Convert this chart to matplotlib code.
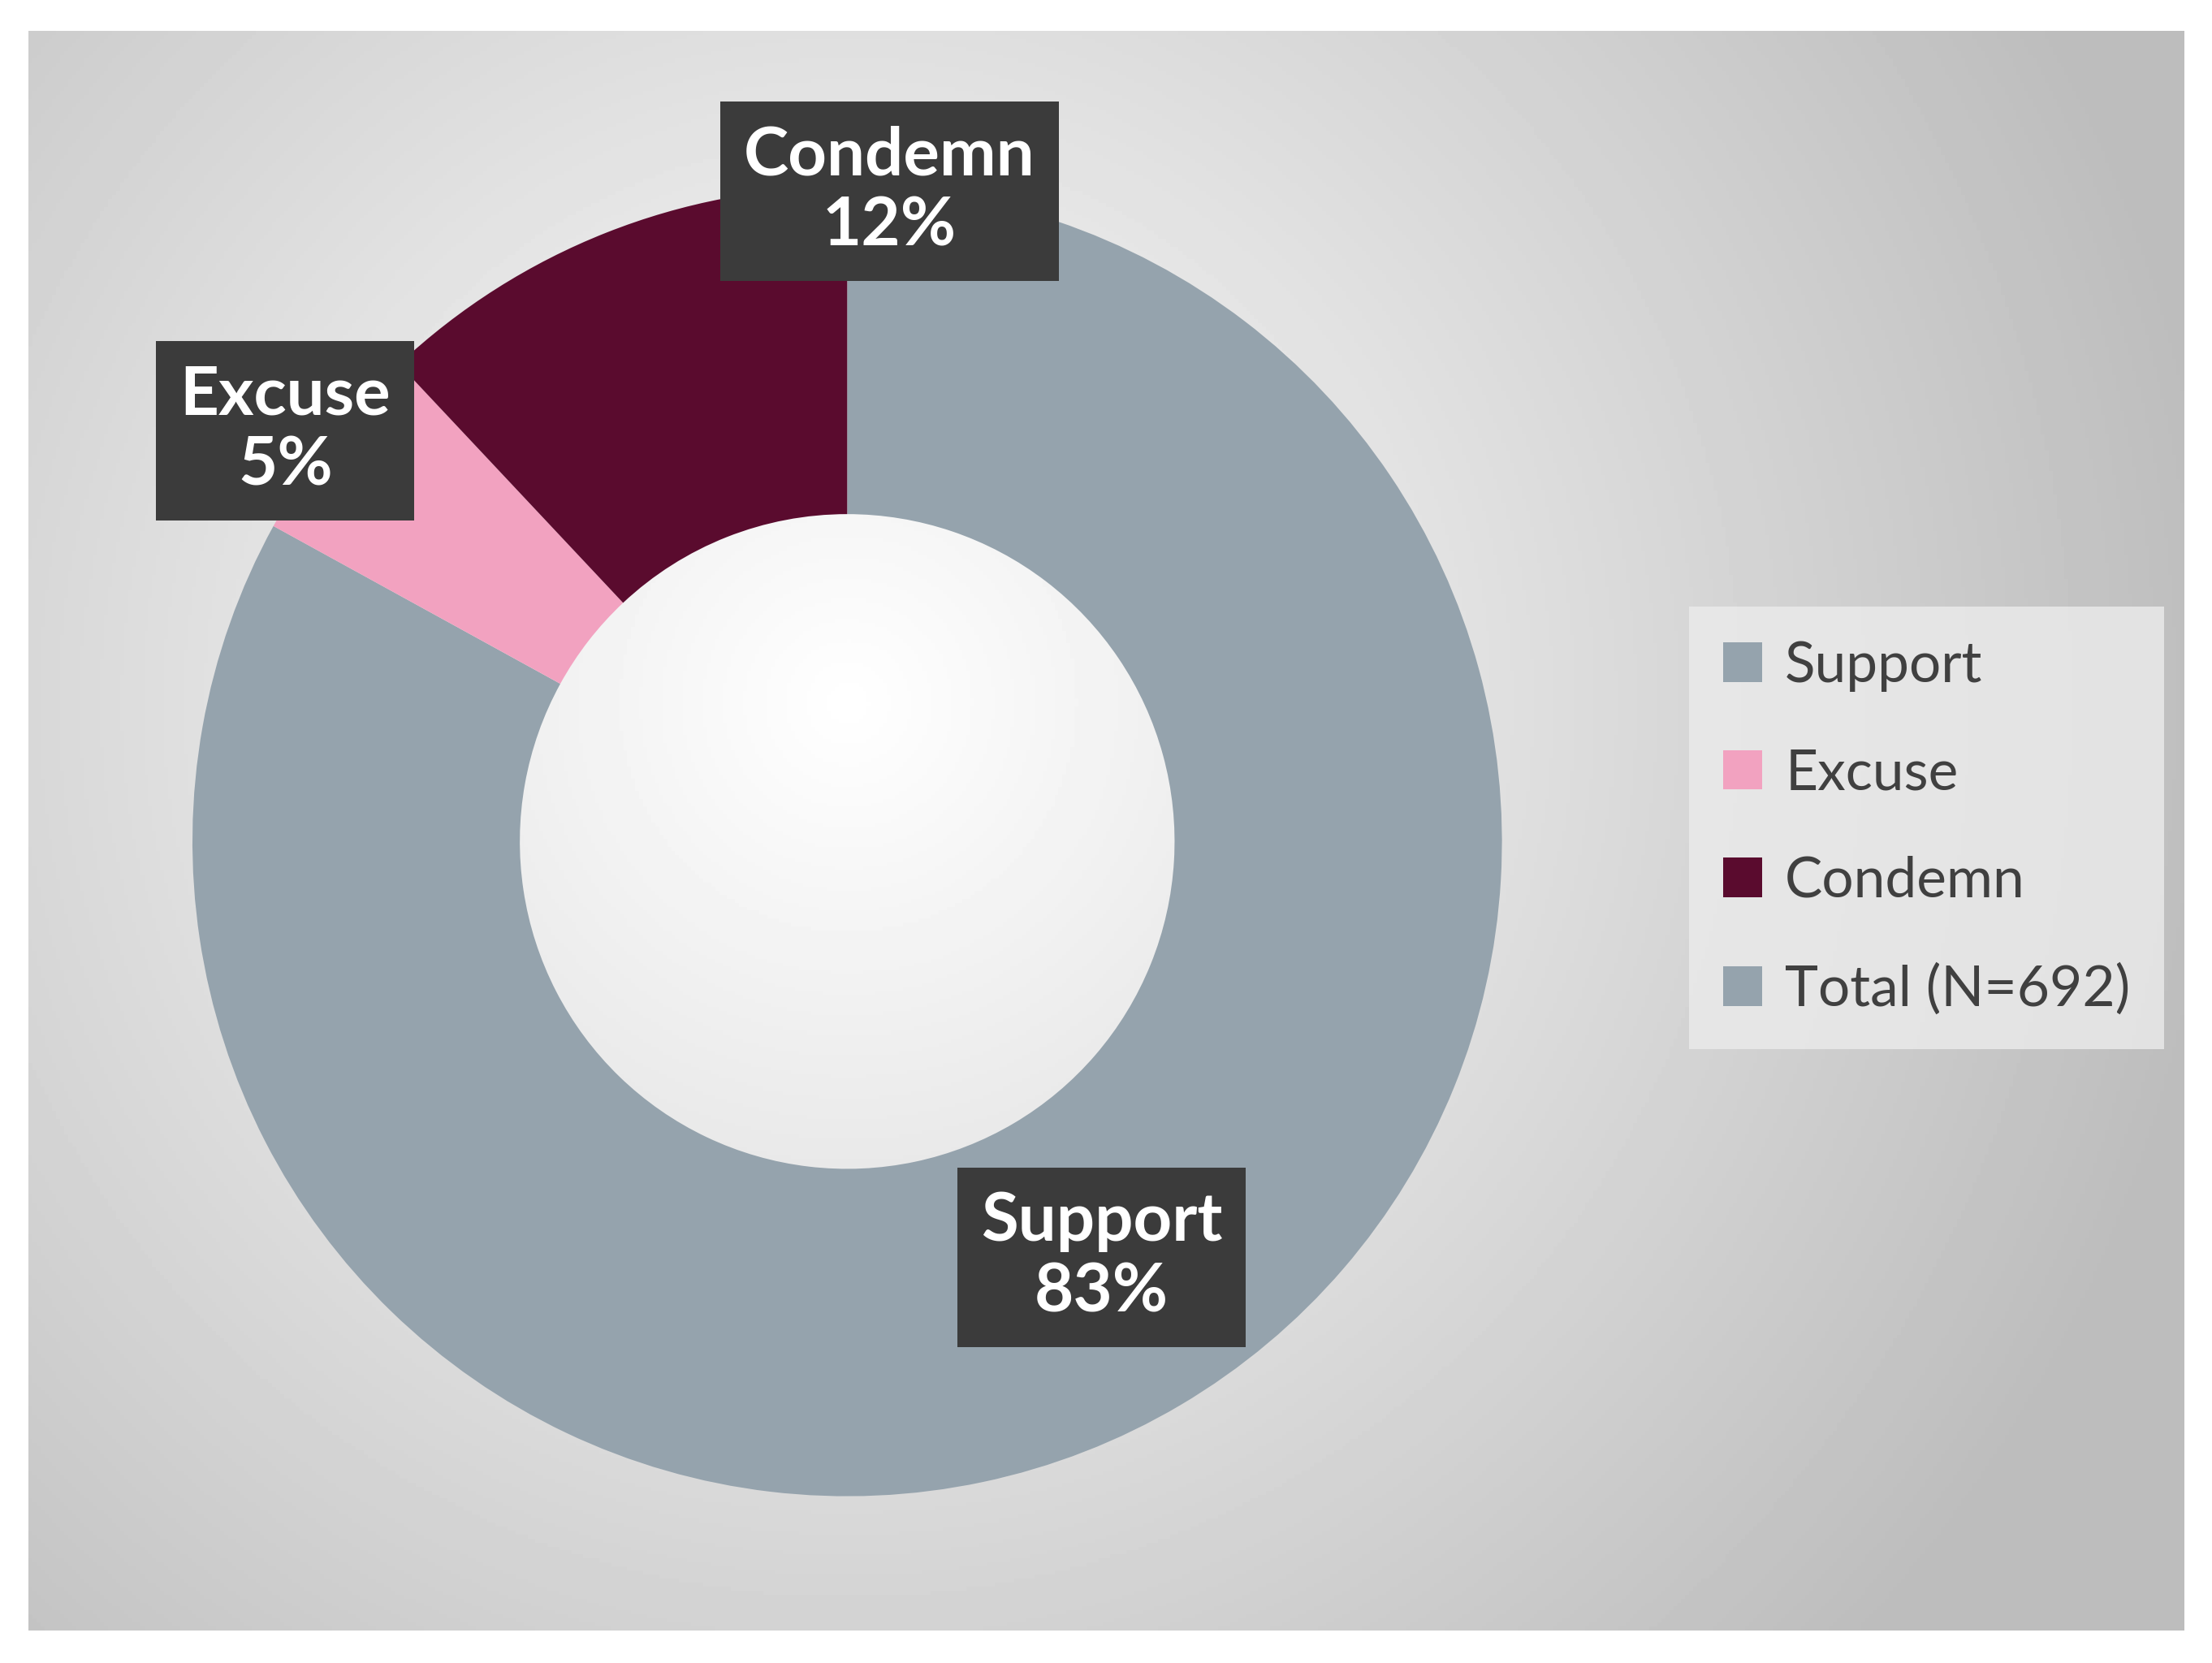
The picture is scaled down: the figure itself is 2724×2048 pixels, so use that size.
import numpy as np
import matplotlib
matplotlib.use('Agg')
import matplotlib.pyplot as plt
from matplotlib.patches import Patch

categories = ['Support', 'Excuse', 'Condemn']
shares = [83, 5, 12]
colors = ['#95a3ad', '#f2a2c0', '#5a0b2e']
legend_labels = ['Support', 'Excuse', 'Condemn', 'Total (N=692)']
legend_colors = ['#95a3ad', '#f2a2c0', '#5a0b2e', '#95a3ad']

plt.rcParams['font.family'] = ['Lato', 'DejaVu Sans']

fig = plt.figure(figsize=(13.62, 10.24), dpi=200)
fig.patch.set_facecolor('white')

# radial gradient background panel
bg = fig.add_axes([20/1568, 1-1155/1178, 1528/1568, 1133/1178])
yy, xx = np.mgrid[0:1:400j, 0:1:540j]
d = np.sqrt(((xx-0.38)*1.35)**2 + (yy-0.42)**2)
bg.imshow(np.clip(1.0 - 0.3*d, 0.74, 1), cmap='gray', vmin=0, vmax=1,
          aspect='auto', extent=[0, 1, 0, 1], origin='upper')
bg.axis('off')

ax = fig.add_axes([0.383-0.296, 0.494-0.394, 0.592, 0.788])
ax.pie(shares, colors=colors, startangle=90, counterclock=False,
       wedgeprops=dict(width=0.5, edgecolor='none'))
ax.set_xlim(-1, 1)
ax.set_ylim(-1, 1)
ax.set_aspect('equal')
ax.axis('off')

box = dict(boxstyle='square,pad=0.35', facecolor='#3b3b3b', edgecolor='none')
label_pos = {'Condemn': (0.402, 0.885), 'Excuse': (0.129, 0.741), 'Support': (0.498, 0.244)}
for cat, val in zip(categories, shares):
    x, y = label_pos[cat]
    fig.text(x, y, f'{cat}\n{val}%', ha='center', va='center', color='white',
             fontsize=30, fontweight='bold', linespacing=1.2, bbox=box)

handles = [Patch(facecolor=c, edgecolor='none') for c in legend_colors]
leg = fig.legend(handles, legend_labels, loc='center', bbox_to_anchor=(0.871, 0.502),
                 fontsize=25, frameon=True, fancybox=False, handlelength=0.7,
                 handleheight=0.7, handletextpad=0.4, labelspacing=1.0,
                 borderpad=0.6)
leg.get_frame().set_facecolor('#ececec')
leg.get_frame().set_edgecolor('none')
for t in leg.get_texts():
    t.set_color('#404040')

fig.savefig('out.png', dpi=200)
